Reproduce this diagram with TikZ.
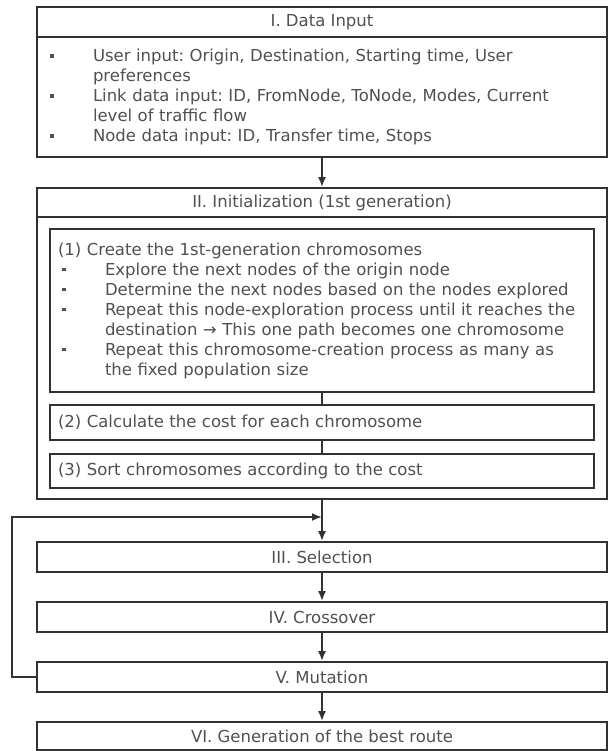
\documentclass[tikz,border=0pt]{standalone}
\usepackage{fontspec}
\setmainfont{DejaVu Sans}
\usetikzlibrary{arrows.meta}
\definecolor{boxgray}{RGB}{50,50,50}
\definecolor{txtgray}{RGB}{80,80,80}
\frenchspacing
\newcommand{\bul}{\makebox[43pt][l]{\raisebox{4pt}{\rule{3.5pt}{3.5pt}}}}
\newcommand{\ind}{\hspace*{43pt}}

\begin{document}
\begin{tikzpicture}[x=1pt,y=-1pt,line width=1.8pt,draw=boxgray]
            \tikzstyle{every node}=[font=\fontsize{16.5}{20}\selectfont, text=txtgray]
            \tikzstyle{box}=[draw=boxgray, rectangle, minimum width=570pt, inner sep=0pt]
            \tikzstyle{sub}=[draw=boxgray, rectangle, minimum width=544pt, text width=528pt, inner xsep=8pt, inner ysep=0pt, align=left]
            \tikzstyle{arr}=[draw=boxgray, -{Latex[length=10pt,width=8pt]}]
            \useasboundingbox (0,0) rectangle (608,751);

            % I. data input
            \node[box, minimum height=30pt] (dtitle) at (322,22) {I. Data Input};
            \node[box, minimum height=120pt, text width=544pt, inner xsep=13pt, align=left] (dbody) at (322,97)
                {\bul User input: Origin, Destination, Starting time, User\\
                 \ind preferences\\
                 \bul Link data input: ID, FromNode, ToNode, Modes, Current\\
                 \ind level of traffic flow\\
                 \bul Node data input: ID, Transfer time, Stops};

            % II. initialization
            \node[box, minimum height=29pt] (ititle) at (322,202.5) {II. Initialization (1st generation)};
            \node[box, minimum height=282pt] (ibody) at (322,358) {};
            \node[sub, minimum height=163pt] (create) at (322,310.5)
                {(1) Create the 1st-generation chromosomes\\
                 \hspace*{4pt}\bul Explore the next nodes of the origin node\\
                 \hspace*{4pt}\bul Determine the next nodes based on the nodes explored\\
                 \hspace*{4pt}\bul Repeat this node-exploration process until it reaches the\\
                 \hspace*{4pt}\ind destination → This one path becomes one chromosome\\
                 \hspace*{4pt}\bul Repeat this chromosome-creation process as many as\\
                 \hspace*{4pt}\ind the fixed population size};
            \node[sub, minimum height=35pt] (cost) at (322,422.5) {(2) Calculate the cost for each chromosome};
            \node[sub, minimum height=34pt] (sort) at (322,471) {(3) Sort chromosomes according to the cost};

            % GA loop
            \node[box, minimum height=30pt] (sel) at (322,557) {III. Selection};
            \node[box, minimum height=30pt] (cross) at (322,617) {IV. Crossover};
            \node[box, minimum height=30pt] (mut) at (322,677) {V. Mutation};
            \node[box, minimum height=28pt] (best) at (322,736) {VI. Generation of the best route};
            \coordinate (loop) at (322,517);

            \draw[arr] (dbody) -- (ititle);
            \draw (create) -- (cost);
            \draw (cost) -- (sort);
            \draw[arr] (ibody) -- (sel);
            \draw[arr] (sel) -- (cross);
            \draw[arr] (cross) -- (mut);
            \draw[arr] (mut) -- (best);
            \draw[arr] (mut.west) -- ++(-24,0) |- (loop);
          \end{tikzpicture}
\end{document}
